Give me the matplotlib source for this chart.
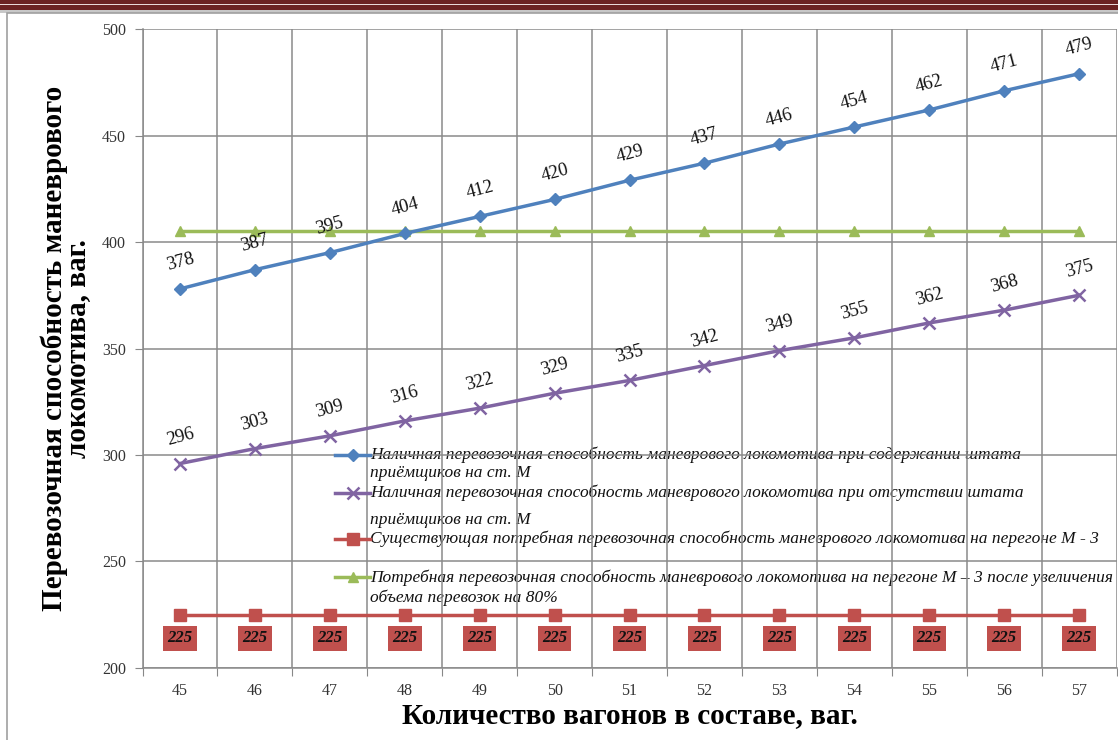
# Перевозочная способность маневрового локомотива в зависимости от числа вагонов
import numpy as np
import matplotlib.pyplot as plt
from matplotlib.patches import Rectangle

# ------------------------------------------------------------------
# DATA
# ------------------------------------------------------------------
wagons = [45, 46, 47, 48, 49, 50, 51, 52, 53, 54, 55, 56, 57]
with_staff = [378, 387, 395, 404, 412, 420, 429, 437, 446, 454, 462, 471, 479]
without_staff = [296, 303, 309, 316, 322, 329, 335, 342, 349, 355, 362, 368, 375]
existing_need = [225] * 13
need_after_80 = [405] * 13

labels = [
    ["Наличная перевозочная способность маневрового локомотива при содержании штата",
     "приёмщиков на ст. М"],
    ["Наличная перевозочная способность маневрового локомотива при отсутствии штата",
     "приёмщиков на ст. М"],
    ["Существующая потребная перевозочная способность маневрового локомотива на перегоне М - 3"],
    ["Потребная перевозочная способность маневрового локомотива на перегоне М – 3 после увеличения",
     "объема перевозок на 80%"],
]

blue = "#4f81bd"
purple = "#8064a2"
red = "#c0504d"
green = "#9bbb59"

# ------------------------------------------------------------------
# FIGURE
# ------------------------------------------------------------------
plt.rcParams["font.family"] = ["Liberation Serif", "DejaVu Serif"]

fig = plt.figure(figsize=(11.18, 7.4), dpi=100)

# dark red band at the top of the page and the chart frame
fig.patches.append(Rectangle((0, 0.986), 1, 0.014, transform=fig.transFigure,
                             facecolor="#6b2222", edgecolor="none", zorder=0))
fig.patches.append(Rectangle((0, 0.9935), 1, 0.0015, transform=fig.transFigure,
                             facecolor="#e8d8d8", edgecolor="none", zorder=1))
fig.patches.append(Rectangle((0, 0.982), 1, 0.004, transform=fig.transFigure,
                             facecolor="#c8c8c8", edgecolor="none", zorder=0))
fig.patches.append(Rectangle((0.0065, -0.01), 1.0, 0.992, transform=fig.transFigure,
                             facecolor="none", edgecolor="#a0a0a0", lw=1.2, zorder=0))

ax = fig.add_axes([0.1275, 0.0973, 0.8712, 0.8635])

styles = [
    dict(color=blue, lw=2.5, marker="D", ms=6),
    dict(color=purple, lw=2.5, marker="x", ms=8, mew=1.8),
    dict(color=red, lw=2.5, marker="s", ms=8),
    dict(color=green, lw=2.5, marker="^", ms=7),
]

ax.plot(wagons, with_staff, zorder=4, **styles[0])
ax.plot(wagons, without_staff, zorder=4, **styles[1])
ax.plot(wagons, existing_need, zorder=4, **styles[2])
ax.plot(wagons, need_after_80, zorder=3, **styles[3])

# value labels
for x, y in zip(wagons, with_staff):
    ax.annotate(str(y), (x, y), xytext=(0, 19), textcoords="offset points",
                ha="center", va="center", rotation=15, fontsize=13.5, color="#111111", zorder=5)
for x, y in zip(wagons, without_staff):
    ax.annotate(str(y), (x, y), xytext=(0, 19), textcoords="offset points",
                ha="center", va="center", rotation=15, fontsize=13.5, color="#111111", zorder=5)
for x, y in zip(wagons, existing_need):
    ax.annotate(str(y), (x, y), xytext=(0, -17), textcoords="offset points",
                ha="center", va="center", fontsize=12, fontstyle="italic", fontweight="bold",
                color="#111111", zorder=5,
                bbox=dict(boxstyle="square,pad=0.25", facecolor=red, edgecolor="none"))

# legend keys drawn by hand (marker sits on the first text line)
leg_rows = [0.333, 0.274, 0.202, 0.142]      # first line of each entry, axes fraction
leg_second = [0.305, 0.232, None, 0.110]     # second line, if any
for st, lab, y1, y2 in zip(styles, labels, leg_rows, leg_second):
    ax.plot([0.198, 0.234], [y1, y1], transform=ax.transAxes, clip_on=False, zorder=5,
            color=st["color"], lw=st["lw"])
    ax.plot([0.216], [y1], transform=ax.transAxes, clip_on=False, zorder=5,
            linestyle="none", **{k: v for k, v in st.items() if k != "lw"})
    ax.text(0.234, y1, lab[0], transform=ax.transAxes, ha="left", va="center",
            fontsize=12.5, fontstyle="italic", color="#111111", zorder=2)
    if y2 is not None:
        ax.text(0.234, y2, lab[1], transform=ax.transAxes, ha="left", va="center",
                fontsize=12.5, fontstyle="italic", color="#111111", zorder=2)

# axes, grid
ax.set_xlim(44.5, 57.5)
ax.set_ylim(200, 500)
ax.set_yticks(np.arange(200, 501, 50))
ax.set_xticks(np.arange(44.5, 57.6, 1))
ax.set_xticklabels([])
ax.set_xticks(wagons, minor=True)
ax.set_xticklabels([str(w) for w in wagons], minor=True)
ax.tick_params(axis="x", which="major", length=6, color="#888888", direction="out")
ax.tick_params(axis="x", which="minor", length=0, pad=11, labelsize=11.5, labelcolor="#333333")
ax.tick_params(axis="y", length=6, color="#888888", pad=6, labelsize=11.5, labelcolor="#333333")
ax.grid(True, which="major", color="#8a8a8a", lw=1.1)
ax.set_axisbelow(False)
for line in ax.get_xgridlines() + ax.get_ygridlines():
    line.set_zorder(1)
for side in ["top", "right"]:
    ax.spines[side].set_visible(False)
for side in ["left", "bottom"]:
    ax.spines[side].set_color("#8a8a8a")
    ax.spines[side].set_linewidth(1.1)

ax.set_xlabel("Количество вагонов в составе, ваг.", fontsize=21, fontweight="bold", labelpad=2)
ax.set_ylabel("Перевозочная способность маневрового\nлокомотива, ваг.", fontsize=21,
              fontweight="bold", labelpad=8, linespacing=0.78)

fig.savefig("out.png", dpi=100)
